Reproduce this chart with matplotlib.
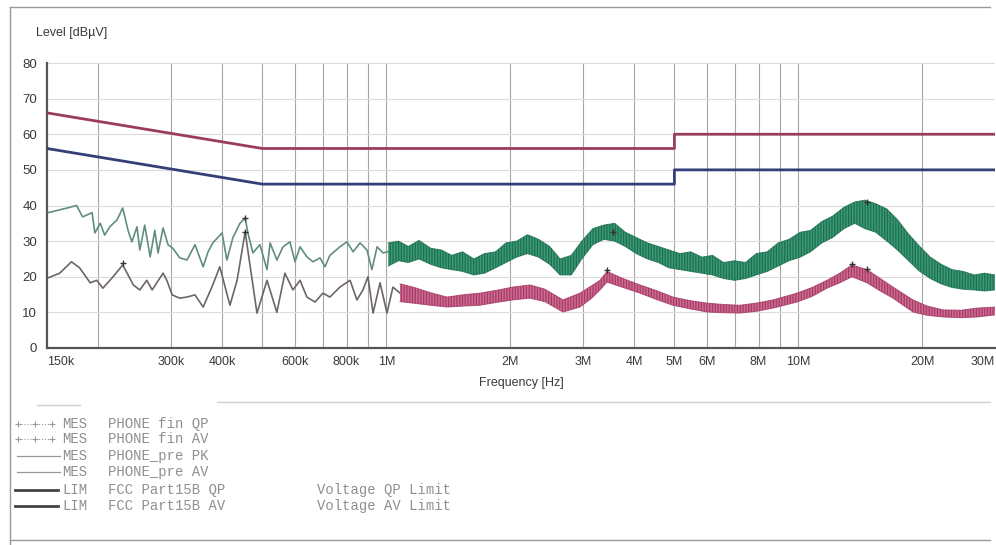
import matplotlib
matplotlib.use("Agg")
import matplotlib.pyplot as plt
from matplotlib.lines import Line2D

# ── Data (frequency in MHz, level in dBuV) ────────────────────────────────────
qp_lim_f = [0.15, 0.5, 5.0, 5.0, 30.0]
qp_lim_v = [66, 56, 56, 60, 60]
av_lim_f = [0.15, 0.5, 5.0, 5.0, 30.0]
av_lim_v = [56, 46, 46, 50, 50]

# pre-scan peak, low band drawn as a line
pk_f = [0.151, 0.168, 0.177, 0.183, 0.193, 0.196, 0.202, 0.207, 0.213, 0.222,
        0.229, 0.236, 0.241, 0.248, 0.252, 0.259, 0.267, 0.274, 0.279, 0.287,
        0.295, 0.303, 0.315, 0.328, 0.343, 0.359, 0.369, 0.379, 0.399, 0.410,
        0.424, 0.441, 0.454, 0.461, 0.474, 0.493, 0.513, 0.522, 0.542, 0.561,
        0.583, 0.600, 0.617, 0.641, 0.663, 0.690, 0.709, 0.729, 0.771, 0.802,
        0.830, 0.863, 0.897, 0.922, 0.949, 0.981, 1.009]
pk_v = [38.0, 39.3, 40.0, 36.8, 38.0, 32.3, 35.0, 31.7, 34.0, 36.0,
        39.3, 33.0, 29.8, 34.0, 27.5, 34.5, 25.6, 33.0, 26.7, 33.7,
        29.0, 28.0, 25.3, 24.7, 29.0, 22.8, 27.0, 29.5, 32.3, 24.7,
        31.0, 35.0, 36.5, 32.3, 26.7, 29.0, 22.0, 29.5, 24.7, 28.4,
        29.8, 24.2, 28.4, 25.6, 24.2, 25.3, 22.8, 26.0, 28.4, 29.8,
        27.0, 29.5, 27.5, 22.0, 28.4, 26.7, 27.0]

# pre-scan peak, upper band drawn as a noise envelope
pk_band_f = [1.01, 1.07, 1.13, 1.20, 1.28, 1.36, 1.44, 1.53, 1.63, 1.73,
             1.84, 1.95, 2.07, 2.20, 2.34, 2.49, 2.64, 2.81, 2.98, 3.17,
             3.37, 3.58, 3.80, 4.04, 4.30, 4.57, 4.85, 5.16, 5.48, 5.83,
             6.19, 6.58, 7.00, 7.44, 7.90, 8.40, 8.93, 9.49, 10.1, 10.7,
             11.4, 12.1, 12.9, 13.7, 14.5, 15.4, 16.4, 17.4, 18.5, 19.7,
             20.9, 22.2, 23.6, 25.1, 26.7, 28.3, 30.0]
pk_band_lo = [23.0, 24.5, 24.0, 25.0, 23.5, 22.5, 22.0, 21.5, 20.5, 21.0,
              22.5, 24.0, 25.5, 26.5, 25.5, 23.5, 20.5, 20.5, 25.0, 29.0,
              30.5, 30.0, 28.5, 26.5, 25.0, 24.0, 22.5, 22.0, 21.5, 21.0,
              20.5, 19.5, 19.0, 19.5, 20.5, 21.5, 23.0, 24.5, 25.5, 27.0,
              29.5, 31.0, 33.5, 35.0, 33.5, 32.5, 30.0, 27.5, 24.5, 21.5,
              19.5, 18.0, 17.0, 16.5, 16.3, 16.0, 16.3]
pk_band_hi = [29.5, 30.0, 28.5, 30.2, 28.0, 27.5, 26.0, 27.0, 25.0, 26.5,
              27.0, 29.5, 30.0, 31.8, 30.5, 28.5, 25.0, 26.0, 30.0, 33.5,
              34.5, 35.0, 32.5, 31.0, 29.5, 28.5, 27.5, 26.5, 27.0, 25.5,
              26.0, 24.0, 24.5, 24.0, 26.5, 27.0, 29.5, 30.5, 32.5, 33.0,
              35.5, 37.0, 39.5, 41.0, 41.5, 40.5, 39.0, 36.0, 32.0, 28.5,
              25.5, 23.5, 22.0, 21.5, 20.5, 21.0, 20.5]

# pre-scan average, low band line
av_f = [0.151, 0.161, 0.172, 0.180, 0.191, 0.198, 0.205, 0.217, 0.229, 0.236,
        0.243, 0.252, 0.262, 0.270, 0.277, 0.287, 0.293, 0.302, 0.315, 0.328,
        0.343, 0.359, 0.377, 0.394, 0.417, 0.434, 0.454, 0.485, 0.513, 0.542,
        0.567, 0.593, 0.617, 0.641, 0.671, 0.701, 0.729, 0.771, 0.816, 0.848,
        0.877, 0.902, 0.928, 0.965, 1.003, 1.037, 1.079]
av_v = [19.7, 21.0, 24.2, 22.5, 18.3, 19.0, 16.8, 20.0, 23.3, 20.5,
        17.7, 16.3, 19.0, 16.3, 18.3, 21.0, 19.0, 14.9, 14.0, 14.3,
        14.9, 11.5, 17.1, 22.8, 12.0, 19.0, 32.6, 9.8, 19.0, 10.0,
        21.0, 16.3, 19.0, 14.3, 12.9, 15.4, 14.3, 17.1, 19.0, 13.5,
        16.3, 20.0, 9.8, 18.3, 9.8, 17.1, 15.4]

# pre-scan average, upper band envelope
av_band_f = [1.079, 1.160, 1.28, 1.403, 1.55, 1.687, 1.85, 2.028, 2.231, 2.426,
             2.682, 2.950, 3.15, 3.299, 3.430, 3.75, 4.125, 4.55, 4.960, 5.45,
             5.998, 6.6, 7.213, 7.9, 8.674, 9.919, 10.8, 11.73, 12.6, 13.49,
             14.67, 15.8, 16.96, 18.97, 20.5, 22.43, 24.8, 27.13, 30.0]
av_band_lo = [13.0, 12.6, 12.0, 11.5, 11.8, 12.0, 12.8, 13.5, 14.0, 13.0,
              10.1, 11.5, 14.0, 16.3, 18.5, 17.0, 15.4, 13.5, 12.0, 11.0,
              10.1, 9.9, 9.8, 10.3, 11.2, 12.9, 14.5, 16.8, 18.3, 20.0,
              18.3, 16.0, 14.0, 10.1, 9.2, 8.7, 8.5, 8.7, 9.3]
av_band_hi = [18.0, 17.1, 15.5, 14.3, 15.0, 15.4, 16.2, 17.1, 17.7, 16.5,
              13.5, 15.4, 17.5, 19.0, 21.5, 19.5, 17.7, 16.0, 14.3, 13.3,
              12.6, 12.2, 12.0, 12.6, 13.5, 15.4, 17.0, 19.0, 21.0, 23.3,
              22.0, 19.5, 17.1, 13.5, 11.8, 10.7, 10.6, 11.2, 11.5]

# final measurement points
qp_fin_f = [0.454, 3.55, 14.67]
qp_fin_v = [36.5, 32.6, 41.0]
av_fin_f = [0.229, 0.454, 3.43, 13.49, 14.67]
av_fin_v = [24.0, 32.6, 22.0, 23.5, 22.3]

xticks = [0.15, 0.3, 0.4, 0.6, 0.8, 1, 2, 3, 4, 5, 6, 8, 10, 20, 30]
xtick_labels = ["150k", "300k", "400k", "600k", "800k", "1M", "2M", "3M",
                "4M", "5M", "6M", "8M", "10M", "20M", "30M"]
vgrid = [0.2, 0.3, 0.4, 0.5, 0.6, 0.7, 0.8, 0.9, 1, 2, 3, 4, 5, 6, 7, 8, 9,
         10, 20]
yticks = [0, 10, 20, 30, 40, 50, 60, 70, 80]

legend_rows = [
    ("MES", "PHONE fin QP", ""),
    ("MES", "PHONE fin AV", ""),
    ("MES", "PHONE_pre PK", ""),
    ("MES", "PHONE_pre AV", ""),
    ("LIM", "FCC Part15B QP", "Voltage QP Limit"),
    ("LIM", "FCC Part15B AV", "Voltage AV Limit"),
]

# ── Colours ──────────────────────────────────────────────────────────────────
QP_RED = "#9a3d5c"
AV_NAVY = "#343f7a"
GREEN = "#3a9a74"
GREEN_DARK = "#1f6e50"
GREEN_LINE = "#5f8f7b"
PINK = "#cf6a92"
PINK_DARK = "#a43d66"
GREY_LINE = "#6e6569"
TXT = "#3a3a3a"
LEG = "#8f8f8f"

plt.rcParams["hatch.linewidth"] = 0.9

W, H = 996, 545
fig = plt.figure(figsize=(W / 100, H / 100), dpi=100, facecolor="white")

def fx(px):
    return px / W

def fy(py):
    return 1 - py / H

ax = fig.add_axes([fx(47), fy(348), fx(995) - fx(47), fy(63) - fy(348)])
ax.set_xscale("log")
ax.set_xlim(0.15, 30)
ax.set_ylim(0, 80)

# grid
for g in vgrid:
    ax.axvline(g, color="#a6a6a6", lw=0.8, zorder=1)
for yv in yticks[1:]:
    ax.axhline(yv, color="#dcdcdc", lw=0.8, zorder=1)

# limits
ax.plot(qp_lim_f, qp_lim_v, color=QP_RED, lw=2.0, zorder=4)
ax.plot(av_lim_f, av_lim_v, color=AV_NAVY, lw=2.0, zorder=4)

# peak trace
ax.plot(pk_f, pk_v, color=GREEN_LINE, lw=1.2, zorder=3)
ax.fill_between(pk_band_f, pk_band_lo, pk_band_hi, facecolor=GREEN,
                edgecolor=GREEN_DARK, hatch="||||||", lw=0, zorder=3)
ax.plot(pk_band_f, pk_band_hi, color=GREEN_DARK, lw=0.7, alpha=0.8, zorder=3)
ax.plot(pk_band_f, pk_band_lo, color=GREEN_DARK, lw=0.7, alpha=0.8, zorder=3)

# average trace
ax.plot(av_f, av_v, color=GREY_LINE, lw=1.2, zorder=3)
ax.fill_between(av_band_f, av_band_lo, av_band_hi, facecolor=PINK,
                edgecolor=PINK_DARK, hatch="||||||", lw=0, zorder=3)
ax.plot(av_band_f, av_band_hi, color=PINK_DARK, lw=0.7, alpha=0.8, zorder=3)
ax.plot(av_band_f, av_band_lo, color=PINK_DARK, lw=0.7, alpha=0.8, zorder=3)

# final markers
ax.plot(qp_fin_f, qp_fin_v, ls="none", marker="+", ms=4, mew=1.0,
        color="#333333", zorder=5)
ax.plot(av_fin_f, av_fin_v, ls="none", marker="+", ms=4, mew=1.0,
        color="#333333", zorder=5)

# axes styling
for s in ["top", "right"]:
    ax.spines[s].set_visible(False)
for s in ["left", "bottom"]:
    ax.spines[s].set_color("#555555")
    ax.spines[s].set_linewidth(1.6)

ax.set_yticks(yticks)
ax.set_yticklabels([str(v) for v in yticks], fontsize=9.5, color=TXT,
                   family="Liberation Sans")
ax.xaxis.set_minor_locator(matplotlib.ticker.NullLocator())
ax.set_xticks(xticks)
ax.set_xticklabels(xtick_labels, fontsize=9, color=TXT,
                   family="Liberation Sans")
lbls = ax.get_xticklabels()
lbls[0].set_horizontalalignment("left")
lbls[-1].set_horizontalalignment("right")
ax.tick_params(axis="both", length=0)
ax.tick_params(axis="x", pad=6)
ax.tick_params(axis="y", pad=7)

fig.text(fx(521), fy(383), "Frequency [Hz]", ha="center", va="center",
         fontsize=9, color=TXT, family="Liberation Sans")
fig.text(fx(36), fy(33), "Level [dBµV]", ha="left", va="center",
         fontsize=9, color=TXT, family="Liberation Sans")

# frame and separators
frame_kw = dict(transform=fig.transFigure, color="#9a9a9a", lw=1.0)
fig.add_artist(Line2D([fx(10), fx(990)], [fy(7), fy(7)], **frame_kw))
fig.add_artist(Line2D([fx(10), fx(10)], [fy(7), fy(545)], **frame_kw))
fig.add_artist(Line2D([fx(10), fx(990)], [fy(540), fy(540)], **frame_kw))
sep_kw = dict(transform=fig.transFigure, color="#cfcfcf", lw=1.0)
fig.add_artist(Line2D([fx(217), fx(990)], [fy(402), fy(402)], **sep_kw))
fig.add_artist(Line2D([fx(37), fx(80)], [fy(405), fy(405)], **sep_kw))

# legend block
row_y = [424, 439, 456, 472, 490, 506]
for i, (tag, name, desc) in enumerate(legend_rows):
    yy = fy(row_y[i])
    if i < 2:
        fig.add_artist(Line2D([fx(18), fx(35), fx(52)], [yy, yy, yy],
                              transform=fig.transFigure, color="#9a9a9a",
                              lw=0.8, ls=":", marker="+", ms=4, mew=0.8))
    elif i < 4:
        fig.add_artist(Line2D([fx(17), fx(60)], [yy, yy],
                              transform=fig.transFigure, color="#9a9a9a",
                              lw=0.9))
    else:
        fig.add_artist(Line2D([fx(15), fx(58)], [yy, yy],
                              transform=fig.transFigure, color="#444444",
                              lw=2.0))
    fig.text(fx(62), yy, tag, ha="left", va="center", fontsize=10,
             color=LEG, family="Liberation Mono")
    fig.text(fx(108), yy, name, ha="left", va="center", fontsize=10,
             color=LEG, family="Liberation Mono")
    if desc:
        fig.text(fx(317), yy, desc, ha="left", va="center", fontsize=10,
                 color=LEG, family="Liberation Mono")

fig.savefig("out.png", dpi=100, facecolor="white")
